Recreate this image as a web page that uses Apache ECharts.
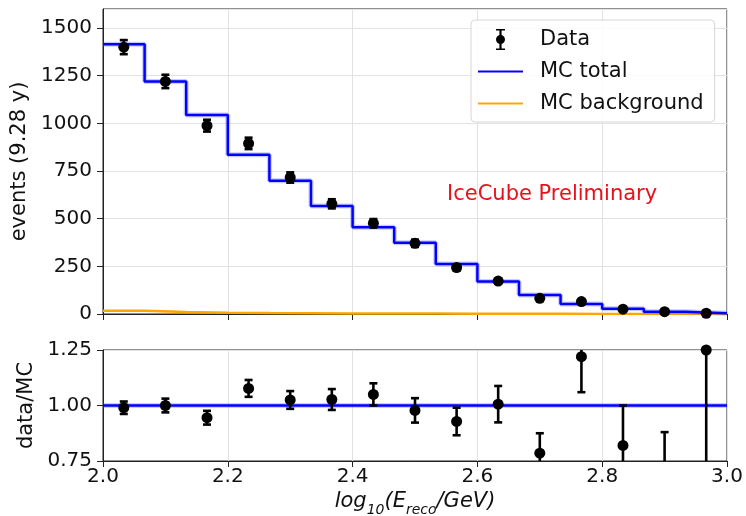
<!DOCTYPE html>
<html lang="en">
<head>
<meta charset="UTF-8">
<title>IceCube data / MC</title>
<script src="https://cdn.jsdelivr.net/npm/echarts@6/dist/echarts.min.js"></script>
<style>
  html, body { margin: 0; padding: 0; background: #fff; }
  #main { width: 746px; height: 516px; }
</style>
</head>
<body>
<div id="main"></div>
<script type="text/javascript">
// histogram bins in log10(E_reco/GeV)
var binEdges = [2.0, 2.0667, 2.1333, 2.2, 2.2667, 2.3333, 2.4, 2.4667, 2.5333, 2.6, 2.6667, 2.7333, 2.8, 2.8667, 2.9333, 3.0];
var binCenters = [2.0333, 2.1, 2.1667, 2.2333, 2.3, 2.3667, 2.4333, 2.5, 2.5667, 2.6333, 2.7, 2.7667, 2.8333, 2.9, 2.9667];

var mcTotal = [1415, 1220, 1044, 835, 699, 566, 455, 374, 262, 170, 100, 52, 28, 12, 4];
var mcBackground = [17, 10, 7, 5, 4, 3, 2, 2, 1.5, 1, 1, 0.5, 0.5, 0.3, 0.2];
var dataCounts = [1400, 1220, 988, 895, 716, 578, 476, 371, 244, 173, 82, 65, 25, 12, 4];
var dataErr = [37, 35, 31, 30, 27, 24, 22, 19, 16, 13, 9, 8, 5, 3.5, 2];

var ratio = [0.99, 1.00, 0.945, 1.077, 1.025, 1.027, 1.05, 0.978, 0.928, 1.006, 0.785, 1.22, 0.82, 0.55, 1.25];
var ratioErr = [0.028, 0.031, 0.031, 0.038, 0.04, 0.047, 0.05, 0.055, 0.062, 0.082, 0.09, 0.16, 0.18, 0.33, 0.9];

var xTicks = [2.0, 2.2, 2.4, 2.6, 2.8, 3.0];
var countTicks = [0, 250, 500, 750, 1000, 1250, 1500];
var ratioTicks = [0.75, 1.00, 1.25];

var FONT = 'DejaVu Sans';

function stepPoints(vals) {
    var pts = [];
    for (var i = 0; i < vals.length; i++) {
        pts.push([binEdges[i], vals[i]]);
        pts.push([binEdges[i + 1], vals[i]]);
    }
    return pts;
}

function withErr(xs, ys, es) {
    return xs.map(function (x, i) { return [x, ys[i], es[i]]; });
}

function errorBar(params, api) {
    var x = api.value(0), y = api.value(1), e = api.value(2);
    var top = api.coord([x, y + e]);
    var bot = api.coord([x, y - e]);
    var cap = 4;
    var st = { stroke: '#000', lineWidth: 2.6 };
    return {
        type: 'group',
        children: [
            { type: 'line', shape: { x1: top[0], y1: top[1], x2: bot[0], y2: bot[1] }, style: st },
            { type: 'line', shape: { x1: top[0] - cap, y1: top[1], x2: top[0] + cap, y2: top[1] }, style: st },
            { type: 'line', shape: { x1: bot[0] - cap, y1: bot[1], x2: bot[0] + cap, y2: bot[1] }, style: st }
        ]
    };
}

var gridLine = { show: true, lineStyle: { color: '#e2e2e2', width: 1 } };
var tickLabel = { fontFamily: FONT, fontSize: 20, color: '#111' };

var dataIcon = 'path://M0,0H9V1.6H5.6V19.4H9V21H0V19.4H3.4V1.6H0Z M0,10.5A4.5,4.5 0 1 1 9,10.5A4.5,4.5 0 1 1 0,10.5Z';
var lineIcon = 'path://M0,0H45V2H0Z';

var chart = echarts.init(document.getElementById('main'), null, { renderer: 'canvas' });

var option = {
    animation: false,
    backgroundColor: '#fff',
    textStyle: { fontFamily: FONT },
    grid: [
        { left: 103, top: 9, width: 624, height: 305, show: true, borderColor: '#222', borderWidth: 1, outerBoundsMode: 'none' },
        { left: 103, top: 350, width: 624, height: 111, show: true, borderColor: '#222', borderWidth: 1, outerBoundsMode: 'none' }
    ],
    legend: {
        orient: 'vertical',
        left: 471,
        top: 20,
        padding: [9, 11, 8, 7],
        itemWidth: 45,
        itemHeight: 21,
        itemGap: 11,
        backgroundColor: 'rgba(255,255,255,0.85)',
        borderColor: '#d6d6d6',
        borderWidth: 1,
        borderRadius: 4,
        textStyle: { fontFamily: FONT, fontSize: 21, color: '#111', padding: [0, 0, 0, 12] },
        data: [
            { name: 'Data', icon: dataIcon },
            { name: 'MC total', icon: lineIcon },
            { name: 'MC background', icon: lineIcon }
        ]
    },
    xAxis: [
        {
            gridIndex: 0, type: 'value', min: 2, max: 3, interval: 0.2,
            axisLine: { show: true, lineStyle: { color: '#222' } },
            axisTick: { show: true, length: 6, lineStyle: { color: '#222' } },
            axisLabel: { show: false },
            splitLine: gridLine
        },
        {
            gridIndex: 1, type: 'value', min: 2, max: 3, interval: 0.2,
            axisLine: { show: true, lineStyle: { color: '#222' } },
            axisTick: { show: true, length: 6, lineStyle: { color: '#222' } },
            axisLabel: Object.assign({ margin: 6, formatter: function (v) {
                return xTicks.indexOf(Math.round(v * 10) / 10) >= 0 ? v.toFixed(1) : '';
            } }, tickLabel),
            splitLine: gridLine,
            name: '{i|log}{s|10}{i|(E}{s|reco}{i|/GeV)}',
            nameLocation: 'middle',
            nameGap: 30,
            nameTextStyle: {
                rich: {
                    i: { fontFamily: FONT, fontSize: 21, fontStyle: 'italic', color: '#111', lineHeight: 26, verticalAlign: 'top' },
                    s: { fontFamily: FONT, fontSize: 14, fontStyle: 'italic', color: '#111', lineHeight: 26, verticalAlign: 'bottom' }
                }
            }
        }
    ],
    yAxis: [
        {
            gridIndex: 0, type: 'value', min: 0, max: 1600, interval: 250,
            axisLine: { show: true, lineStyle: { color: '#222' } },
            axisTick: { show: true, length: 6, lineStyle: { color: '#222' } },
            axisLabel: Object.assign({ margin: 11, showMaxLabel: false, formatter: function (v) {
                return countTicks.indexOf(v) >= 0 ? String(v) : '';
            } }, tickLabel),
            splitLine: gridLine,
            name: 'events (9.28 y)',
            nameLocation: 'middle',
            nameGap: 62,
            nameTextStyle: { fontFamily: FONT, fontSize: 21, color: '#111' }
        },
        {
            gridIndex: 1, type: 'value', min: 0.75, max: 1.25, interval: 0.25,
            axisLine: { show: true, lineStyle: { color: '#222' } },
            axisTick: { show: true, length: 6, lineStyle: { color: '#222' } },
            axisLabel: Object.assign({ margin: 11, formatter: function (v) {
                return v.toFixed(2);
            } }, tickLabel),
            splitLine: gridLine,
            name: 'data/MC',
            nameLocation: 'middle',
            nameGap: 62,
            nameTextStyle: { fontFamily: FONT, fontSize: 21, color: '#111' }
        }
    ],
    graphic: [
        {
            type: 'text', left: 447, top: 184, z: 10,
            style: { text: 'IceCube Preliminary', fontFamily: FONT, fontSize: 21, fill: '#e8101a' }
        }
    ],
    series: [
        {
            name: 'MC background', type: 'line', xAxisIndex: 0, yAxisIndex: 0,
            data: stepPoints(mcBackground), symbol: 'none', showSymbol: false,
            lineStyle: { color: '#ffa500', width: 2.5 }, itemStyle: { color: '#ffa500' }, z: 2
        },
        {
            name: 'mc band', type: 'line', xAxisIndex: 0, yAxisIndex: 0,
            data: stepPoints(mcTotal), symbol: 'none', showSymbol: false,
            lineStyle: { color: 'rgba(80,80,255,0.3)', width: 5 }, z: 2, silent: true
        },
        {
            name: 'MC total', type: 'line', xAxisIndex: 0, yAxisIndex: 0,
            data: stepPoints(mcTotal), symbol: 'none', showSymbol: false,
            lineStyle: { color: '#0000ff', width: 2.5 }, itemStyle: { color: '#0000ff' }, z: 3
        },
        {
            name: 'data err', type: 'custom', xAxisIndex: 0, yAxisIndex: 0,
            data: withErr(binCenters, dataCounts, dataErr), renderItem: errorBar, z: 4, clip: true
        },
        {
            name: 'Data', type: 'scatter', xAxisIndex: 0, yAxisIndex: 0,
            data: binCenters.map(function (x, i) { return [x, dataCounts[i]]; }),
            symbol: 'circle', symbolSize: 11, itemStyle: { color: '#000', opacity: 1 }, z: 5
        },
        {
            name: 'ratio band', type: 'line', xAxisIndex: 1, yAxisIndex: 1,
            data: [[2, 1], [3, 1]], symbol: 'none', showSymbol: false,
            lineStyle: { color: 'rgba(80,80,255,0.3)', width: 5 }, z: 2, silent: true
        },
        {
            name: 'ratio mc', type: 'line', xAxisIndex: 1, yAxisIndex: 1,
            data: [[2, 1], [3, 1]], symbol: 'none', showSymbol: false,
            lineStyle: { color: '#0000ff', width: 2.5 }, z: 3
        },
        {
            name: 'ratio err', type: 'custom', xAxisIndex: 1, yAxisIndex: 1,
            data: withErr(binCenters, ratio, ratioErr), renderItem: errorBar, z: 4, clip: true
        },
        {
            name: 'ratio pts', type: 'scatter', xAxisIndex: 1, yAxisIndex: 1,
            data: binCenters.map(function (x, i) { return [x, ratio[i]]; }),
            symbol: 'circle', symbolSize: 11, itemStyle: { color: '#000', opacity: 1 }, z: 5, clip: true
        }
    ]
};

chart.setOption(option);
</script>
</body>
</html>
